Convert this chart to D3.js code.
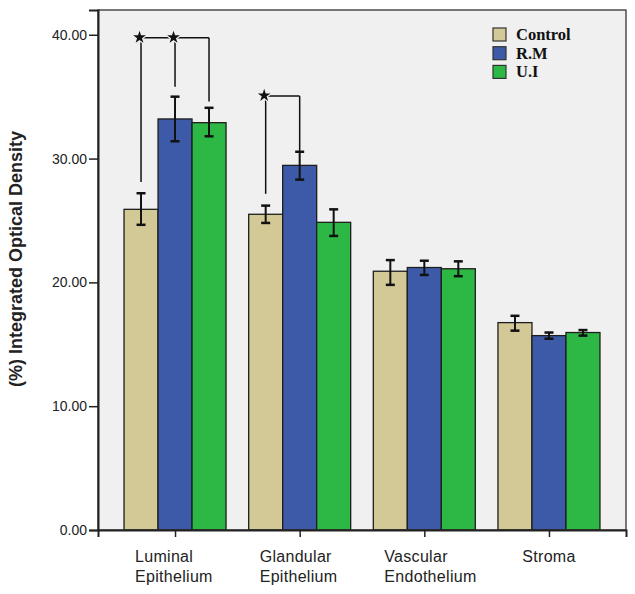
<!DOCTYPE html>
<html>
<head>
<meta charset="utf-8">
<script src="https://cdn.jsdelivr.net/npm/d3@7"></script>
<style>
  html, body { margin: 0; padding: 0; background: #ffffff; }
  svg { display: block; }
</style>
</head>
<body>
<svg id="chart" width="635" height="594"></svg>
<script>
// ---------------- data ----------------
const categories = ["Luminal Epithelium", "Glandular Epithelium", "Vascular Endothelium", "Stroma"];
const seriesNames = ["Control", "R.M", "U.I"];
const controlMean = [25.9, 25.5, 20.9, 16.75];
const controlLow  = [24.65, 24.8, 19.8, 16.1];
const controlHigh = [27.2, 26.2, 21.8, 17.3];
const rmMean = [33.2, 29.45, 21.2, 15.7];
const rmLow  = [31.4, 28.3, 20.6, 15.45];
const rmHigh = [35.0, 30.55, 21.75, 15.95];
const uiMean = [32.9, 24.85, 21.1, 15.95];
const uiLow  = [31.8, 23.75, 20.5, 15.7];
const uiHigh = [34.1, 25.9, 21.7, 16.15];
const yTicks = [0, 10, 20, 30, 40];
const yLabel = "(%) Integrated Optical Density";
// significance brackets
const sigGroups = ["Luminal Epithelium", "Glandular Epithelium"];
const sigLevels = [39.75, 35.05];
const sigDrops = [
  [["Control", 28.1], ["R.M", 35.8], ["U.I", 34.6]],
  [["Control", 27.15], ["R.M", 30.6]]
];
const sigStars = [["Control", "R.M"], ["Control"]];

// ---------------- layout ----------------
const colors = { "Control": "#d3c996", "R.M": "#3d5aa8", "U.I": "#2db845" };
const plot = { left: 98, right: 626, top: 10, bottom: 530 };
const svg = d3.select("#chart");

const x = d3.scalePoint().domain(categories).range([plot.left, plot.right]).padding(0.618);
const xs = d3.scaleBand().domain(seriesNames).range([-51, 51]);
const y = d3.scaleLinear().domain([0, 42]).range([plot.bottom, plot.top]);

const rows = categories.map((c, i) => ({
  cat: c,
  vals: [
    { s: "Control", m: controlMean[i], lo: controlLow[i], hi: controlHigh[i] },
    { s: "R.M", m: rmMean[i], lo: rmLow[i], hi: rmHigh[i] },
    { s: "U.I", m: uiMean[i], lo: uiLow[i], hi: uiHigh[i] }
  ]
}));

// plot background
svg.append("rect")
  .attr("x", plot.left).attr("y", plot.top)
  .attr("width", plot.right - plot.left).attr("height", plot.bottom - plot.top)
  .attr("fill", "#f0f0f0");

// bars
const g = svg.append("g");
const grp = g.selectAll("g.grp").data(rows).join("g")
  .attr("class", "grp")
  .attr("transform", d => `translate(${x(d.cat)},0)`);

grp.selectAll("rect").data(d => d.vals).join("rect")
  .attr("x", d => xs(d.s))
  .attr("width", xs.bandwidth())
  .attr("y", d => y(d.m))
  .attr("height", d => y(0) - y(d.m))
  .attr("fill", d => colors[d.s])
  .attr("stroke", "#1e1e1e")
  .attr("stroke-width", 1.3);

// error bars
const eb = grp.selectAll("g.eb").data(d => d.vals).join("g").attr("class", "eb")
  .attr("transform", d => `translate(${xs(d.s) + xs.bandwidth() / 2},0)`);
eb.append("line").attr("x1", 0).attr("x2", 0)
  .attr("y1", d => y(d.lo)).attr("y2", d => y(d.hi))
  .attr("stroke", "#111").attr("stroke-width", 2);
eb.append("line").attr("x1", -4.5).attr("x2", 4.5)
  .attr("y1", d => y(d.lo)).attr("y2", d => y(d.lo))
  .attr("stroke", "#111").attr("stroke-width", 2.5);
eb.append("line").attr("x1", -4.5).attr("x2", 4.5)
  .attr("y1", d => y(d.hi)).attr("y2", d => y(d.hi))
  .attr("stroke", "#111").attr("stroke-width", 2.5);

// significance brackets
const sig = svg.append("g");
sigGroups.forEach((cat, i) => {
  const level = sigLevels[i];
  const drops = sigDrops[i];
  const px = s => x(cat) + xs(s) + xs.bandwidth() / 2;
  sig.append("line")
    .attr("x1", px(drops[0][0])).attr("x2", px(drops[drops.length - 1][0]))
    .attr("y1", y(level)).attr("y2", y(level))
    .attr("stroke", "#111").attr("stroke-width", 1.5);
  sig.selectAll(null).data(drops).enter().append("line")
    .attr("x1", d => px(d[0])).attr("x2", d => px(d[0]))
    .attr("y1", y(level)).attr("y2", d => y(d[1]))
    .attr("stroke", "#111").attr("stroke-width", 1.5);
  sig.selectAll(null).data(sigStars[i]).enter().append("path")
    .attr("d", d3.symbol(d3.symbolStar).size(50))
    .attr("transform", d => `translate(${px(d) - 1.5},${y(level) - 0.5})`)
    .attr("fill", "#111")
    .attr("stroke", "#f0f0f0").attr("stroke-width", 2.5)
    .attr("paint-order", "stroke");
});

// frame
svg.append("rect")
  .attr("x", plot.left).attr("y", plot.top)
  .attr("width", plot.right - plot.left).attr("height", plot.bottom - plot.top)
  .attr("fill", "none").attr("stroke", "#333").attr("stroke-width", 1.3);

// y axis
const yAxis = svg.append("g")
  .attr("transform", `translate(${plot.left},0)`)
  .call(d3.axisLeft(y).tickValues(yTicks).tickFormat(d3.format(".2f")).tickSize(9).tickPadding(2));
yAxis.select(".domain").attr("stroke", "#222").attr("stroke-width", 2);
yAxis.selectAll(".tick line").attr("stroke", "#222").attr("stroke-width", 1.5);
yAxis.selectAll(".tick text")
  .attr("font-family", "Liberation Sans, Arial, sans-serif")
  .attr("font-size", 14).attr("fill", "#222");

// x axis
const xAxis = svg.append("g")
  .attr("transform", `translate(0,${plot.bottom})`)
  .call(d3.axisBottom(x).tickSize(7).tickFormat(""));
xAxis.select(".domain").attr("stroke", "#222").attr("stroke-width", 2);
xAxis.selectAll(".tick line").attr("stroke", "#222").attr("stroke-width", 1.5);

// x labels
const xl = svg.append("g")
  .attr("font-family", "Liberation Sans, Arial, sans-serif")
  .attr("font-size", 16).attr("letter-spacing", 0.3).attr("fill", "#222");
categories.forEach(c => {
  const lines = c.split(" ");
  const multi = lines.length > 1;
  const t = xl.append("text")
    .attr("text-anchor", multi ? "start" : "middle")
    .attr("x", multi ? x(c) - 40 : x(c))
    .attr("y", 562);
  lines.forEach((ln, j) => {
    t.append("tspan")
      .attr("x", multi ? x(c) - 40 : x(c))
      .attr("dy", j === 0 ? 0 : 19.5)
      .text(ln);
  });
});

// y title
svg.append("text")
  .attr("transform", `translate(22,259) rotate(-90)`)
  .attr("text-anchor", "middle")
  .attr("font-family", "Liberation Sans, Arial, sans-serif")
  .attr("font-weight", "bold")
  .attr("font-size", 18)
  .attr("fill", "#222")
  .text(yLabel);

// legend
const lg = svg.append("g").attr("transform", "translate(493,28)");
const li = lg.selectAll("g").data(seriesNames).join("g")
  .attr("transform", (d, i) => `translate(0,${i * 18.7})`);
li.append("rect").attr("width", 13).attr("height", 13)
  .attr("fill", d => colors[d]).attr("stroke", "#333").attr("stroke-width", 1.2);
li.append("text")
  .attr("x", 23).attr("y", 12)
  .attr("font-family", "Liberation Serif, 'Times New Roman', serif")
  .attr("font-weight", "bold").attr("font-size", 16.5).attr("fill", "#111")
  .text(d => d);
</script>
</body>
</html>
